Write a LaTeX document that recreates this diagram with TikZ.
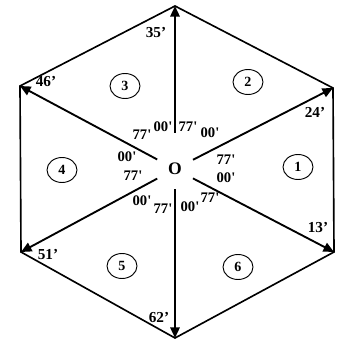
\documentclass[tikz,border=0pt]{standalone}
\usepackage{fontspec}
\setmainfont{Liberation Serif}
\usetikzlibrary{arrows.meta,positioning,shapes.geometric}
\tikzset{
  rim/.style   = {line width=1.4pt, line join=miter},
  spoke/.style = {-{Triangle[length=9pt,width=8pt]}, line width=1.6pt},
  zone/.style  = {draw, ellipse, line width=0.8pt, inner sep=0pt,
                  minimum width=0.9cm, minimum height=0.75cm,
                  font=\fontsize{12}{12}\selectfont\bfseries},
  deg/.style   = {font=\fontsize{13}{13}\selectfont\bfseries, inner sep=0pt},
  mins/.style  = {font=\fontsize{12.5}{13}\selectfont\bfseries, inner sep=0pt},
}

\begin{document}
\begin{tikzpicture}[x=0.03cm, y=-0.03cm]
        \useasboundingbox (0,0) rectangle (339,343);
        % -- hexagon corners -------------------------------------------
        \coordinate (vtop) at (175,6);
        \coordinate (vur)  at (333,88);
        \coordinate (vlr)  at (334,252);
        \coordinate (vbot) at (175,338);
        \coordinate (vll)  at (21,252);
        \coordinate (vul)  at (20,86);
        \draw[rim] (vtop) -- (vur) -- (vlr) -- (vbot) -- (vll) -- (vul) -- cycle;

        % -- centre and spokes -----------------------------------------
        \node[circle, minimum size=1.2cm, inner sep=0pt,
            font=\fontsize{15}{15}\selectfont\bfseries]
            (O) at (175,169) {O};
        \draw[spoke, shorten <=0.48cm] (O) -- (vtop);
        \foreach \v in {vur, vlr, vbot, vll, vul}{
            \draw[spoke] (O) -- (\v);
        }

        % -- corner readings -------------------------------------------
        \node[deg] (d35) at (156,33)  {35'};
        \node[deg] (d46) at (46,82)   {46'};
        \node[deg] (d24) at (315,112) {24'};
        \node[deg] (d13) at (318,228) {13'};
        \node[deg] (d51) at (48,255)  {51'};
        \node[deg] (d62) at (159,318) {62'};

        % -- sectors ---------------------------------------------------
        \foreach \i/\x/\y in {1/298/167, 2/248/82, 3/125/86,
                              4/62/170, 5/122/266, 6/238/267}{
            \node[zone] (z\i) at (\x,\y) {\i};
        }

        % -- minutes round the centre ----------------------------------
        \foreach \t/\x/\y [count=\k] in {77/142/135, 00/163/127, 77/188/127, 00/210/133,
                                         00/127/157, 77/133/176, 77/226/160, 00/226/178,
                                         00/142/201, 77/163/209, 00/190/207, 77/210/198}{
            \node[mins] (m\k) at (\x,\y) {\t\textquotesingle};
        }
    \end{tikzpicture}
\end{document}
